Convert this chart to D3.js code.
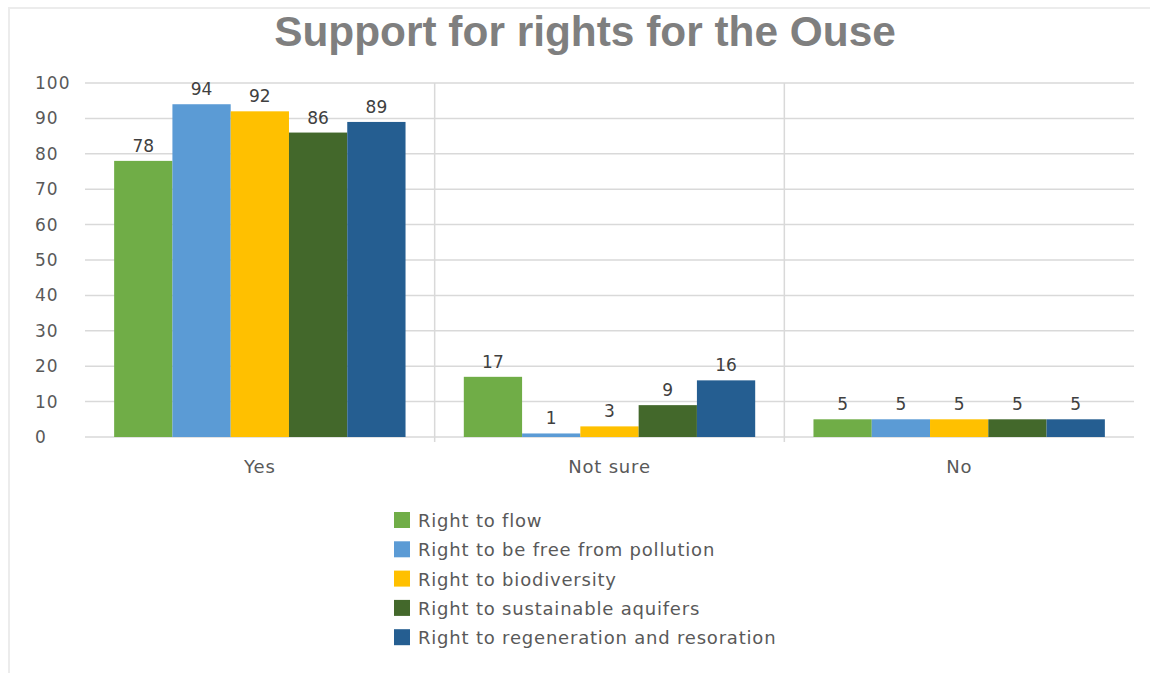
<!DOCTYPE html>
<html lang="en">
<head>
<meta charset="UTF-8">
<title>Support for rights for the Ouse</title>
<script src="https://d3js.org/d3.v7.min.js"></script>
<style>
  body { margin: 0; background: #fff; }
  svg { display: block; }
</style>
</head>
<body>
<svg id="chart"></svg>
<script>
  // Daten
  const categories = ["Yes", "Not sure", "No"];
  const seriesNames = [
    "Right to flow",
    "Right to be free from pollution",
    "Right to biodiversity",
    "Right to sustainable aquifers",
    "Right to regeneration and resoration"
  ];
  const flow         = [78, 17, 5];
  const pollution    = [94, 1, 5];
  const biodiversity = [92, 3, 5];
  const aquifers     = [86, 9, 5];
  const regeneration = [89, 16, 5];
  const yTicks = [0, 10, 20, 30, 40, 50, 60, 70, 80, 90, 100];

  const seriesValues = [flow, pollution, biodiversity, aquifers, regeneration];
  const colors = ["#70ad47", "#5b9bd5", "#ffc000", "#43682b", "#255e91"];

  const width = 1150, height = 673;
  const margin = { top: 83, right: 16, bottom: 236, left: 85 };

  const svg = d3.select("#chart")
    .attr("width", width)
    .attr("height", height);

  // Rahmen (nur oben und links sichtbar, Bild ist abgeschnitten)
  svg.append("line")
    .attr("x1", 8).attr("x2", width)
    .attr("y1", 8).attr("y2", 8)
    .attr("stroke", "#ececec").attr("stroke-width", 2);
  svg.append("line")
    .attr("x1", 9).attr("x2", 9)
    .attr("y1", 7).attr("y2", height)
    .attr("stroke", "#ececec").attr("stroke-width", 2);

  svg.append("text")
    .attr("x", 585)
    .attr("y", 46)
    .attr("text-anchor", "middle")
    .attr("font-family", "Liberation Sans, Arial, sans-serif")
    .attr("font-weight", "bold")
    .attr("font-size", "42.4px")
    .attr("fill", "#7f7f7f")
    .text("Support for rights for the Ouse");

  const x0 = d3.scaleBand()
    .domain(categories)
    .range([margin.left, width - margin.right]);

  const x1 = d3.scaleBand()
    .domain(d3.range(seriesNames.length))
    .range([0, x0.bandwidth()])
    .paddingOuter(0.5)
    .paddingInner(0);

  const y = d3.scaleLinear()
    .domain([0, 100])
    .range([height - margin.bottom, margin.top]);

  const font = "'DejaVu Sans', sans-serif";

  // Gitterlinien
  svg.append("g")
    .selectAll("line")
    .data(yTicks)
    .join("line")
    .attr("x1", margin.left)
    .attr("x2", width - margin.right)
    .attr("y1", d => y(d))
    .attr("y2", d => y(d))
    .attr("stroke", "#d9d9d9")
    .attr("stroke-width", 1.5);

  // Trennlinien zwischen Kategorien
  svg.append("g")
    .selectAll("line")
    .data(categories.slice(1))
    .join("line")
    .attr("x1", d => x0(d))
    .attr("x2", d => x0(d))
    .attr("y1", y(100))
    .attr("y2", y(0) + 5)
    .attr("stroke", "#d9d9d9")
    .attr("stroke-width", 1.5);

  // y-Achse (linksbündige Beschriftung)
  const yAxis = svg.append("g")
    .attr("transform", "translate(35,0)")
    .call(d3.axisLeft(y).tickValues(yTicks).tickSize(0).tickPadding(0));
  yAxis.select(".domain").remove();
  yAxis.selectAll("text")
    .attr("text-anchor", "start")
    .attr("font-family", font)
    .attr("font-size", "17px")
    .attr("letter-spacing", "1px")
    .attr("fill", "#595959");

  // x-Achse
  const xAxis = svg.append("g")
    .attr("transform", `translate(0,${y(0)})`)
    .call(d3.axisBottom(x0).tickSize(0).tickPadding(23));
  xAxis.select(".domain").remove();
  xAxis.selectAll("text")
    .attr("font-family", font)
    .attr("font-size", "18px")
    .attr("letter-spacing", "0.8px")
    .attr("fill", "#595959");

  // Balken
  const groups = svg.append("g")
    .selectAll("g")
    .data(categories)
    .join("g")
    .attr("transform", d => `translate(${x0(d)},0)`);

  groups.selectAll("rect")
    .data((c, ci) => seriesValues.map((vals, si) => ({ si, v: vals[ci] })))
    .join("rect")
    .attr("x", d => x1(d.si))
    .attr("width", x1.bandwidth())
    .attr("y", d => y(d.v))
    .attr("height", d => y(0) - y(d.v))
    .attr("fill", d => colors[d.si]);

  groups.selectAll("text")
    .data((c, ci) => seriesValues.map((vals, si) => ({ si, v: vals[ci] })))
    .join("text")
    .attr("x", d => x1(d.si) + x1.bandwidth() / 2)
    .attr("y", d => y(d.v) - 9)
    .attr("text-anchor", "middle")
    .attr("font-family", font)
    .attr("font-size", "17px")
    .attr("fill", "#404040")
    .text(d => d.v);

  // Legende
  const legend = svg.append("g")
    .attr("transform", "translate(394,512)");

  const items = legend.selectAll("g")
    .data(seriesNames)
    .join("g")
    .attr("transform", (d, i) => `translate(0,${i * 29.3})`);

  items.append("rect")
    .attr("width", 16)
    .attr("height", 16)
    .attr("fill", (d, i) => colors[i]);

  items.append("text")
    .attr("x", 24)
    .attr("y", 15)
    .attr("font-family", font)
    .attr("font-size", "18px")
    .attr("letter-spacing", "0.8px")
    .attr("fill", "#595959")
    .text(d => d);
</script>
</body>
</html>
